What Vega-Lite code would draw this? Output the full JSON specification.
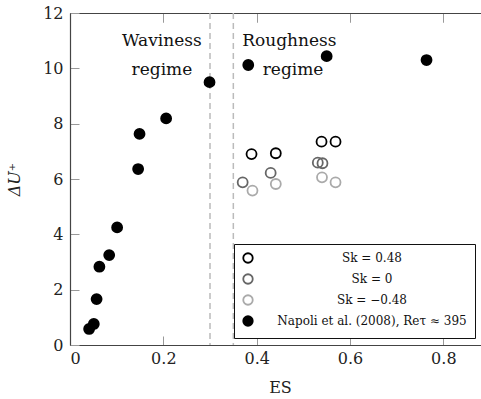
{
  "$schema": "https://vega.github.io/schema/vega-lite/v6.json",
  "autosize": {"type": "none"},
  "padding": {"left": 70, "top": 13, "right": 0, "bottom": 54},
  "width": 420,
  "height": 332,
  "background": "white",
  "config": {
    "font": "DejaVu Serif",
    "view": {"stroke": null},
    "axis": {
      "grid": false,
      "domainColor": "#444",
      "domainWidth": 1.2,
      "tickColor": "#999",
      "tickSize": -9,
      "labelFont": "DejaVu Serif",
      "labelFontSize": 16,
      "labelColor": "#222",
      "titleFont": "DejaVu Serif",
      "titleFontSize": 16,
      "titleFontWeight": "normal",
      "titleColor": "#222"
    }
  },
  "resolve": {"axis": {"x": "independent", "y": "independent"}},
  "layer": [
    {
      "data": {"values": [{"es": 0.3}, {"es": 0.35}]},
      "mark": {"type": "rule", "color": "#bbb", "strokeDash": [6, 4], "strokeWidth": 1.5},
      "encoding": {
        "x": {"field": "es", "type": "quantitative", "scale": {"domain": [0, 0.9], "nice": false},
          "axis": {"orient": "top", "labels": false, "title": null, "values": [0, 0.2, 0.4, 0.6, 0.8]}}
      }
    },
    {
      "data": {"values": [
        {"es": 0.041, "du": 0.58, "g": "Napoli et al. (2008), Reτ ≈ 395"},
        {"es": 0.051, "du": 0.76, "g": "Napoli et al. (2008), Reτ ≈ 395"},
        {"es": 0.057, "du": 1.66, "g": "Napoli et al. (2008), Reτ ≈ 395"},
        {"es": 0.063, "du": 2.83, "g": "Napoli et al. (2008), Reτ ≈ 395"},
        {"es": 0.084, "du": 3.25, "g": "Napoli et al. (2008), Reτ ≈ 395"},
        {"es": 0.101, "du": 4.25, "g": "Napoli et al. (2008), Reτ ≈ 395"},
        {"es": 0.146, "du": 6.36, "g": "Napoli et al. (2008), Reτ ≈ 395"},
        {"es": 0.149, "du": 7.63, "g": "Napoli et al. (2008), Reτ ≈ 395"},
        {"es": 0.206, "du": 8.19, "g": "Napoli et al. (2008), Reτ ≈ 395"},
        {"es": 0.299, "du": 9.5, "g": "Napoli et al. (2008), Reτ ≈ 395"},
        {"es": 0.382, "du": 10.12, "g": "Napoli et al. (2008), Reτ ≈ 395"},
        {"es": 0.55, "du": 10.44, "g": "Napoli et al. (2008), Reτ ≈ 395"},
        {"es": 0.764, "du": 10.3, "g": "Napoli et al. (2008), Reτ ≈ 395"},
        {"es": 0.389, "du": 6.9, "g": "Sk = 0.48"},
        {"es": 0.441, "du": 6.93, "g": "Sk = 0.48"},
        {"es": 0.539, "du": 7.35, "g": "Sk = 0.48"},
        {"es": 0.569, "du": 7.35, "g": "Sk = 0.48"},
        {"es": 0.37, "du": 5.88, "g": "Sk = 0"},
        {"es": 0.43, "du": 6.22, "g": "Sk = 0"},
        {"es": 0.531, "du": 6.59, "g": "Sk = 0"},
        {"es": 0.541, "du": 6.57, "g": "Sk = 0"},
        {"es": 0.391, "du": 5.58, "g": "Sk = −0.48"},
        {"es": 0.441, "du": 5.82, "g": "Sk = −0.48"},
        {"es": 0.54, "du": 6.06, "g": "Sk = −0.48"},
        {"es": 0.569, "du": 5.88, "g": "Sk = −0.48"}
      ]},
      "mark": {"type": "point", "shape": "circle", "size": 100, "strokeWidth": 1.8, "opacity": 1},
      "encoding": {
        "x": {"field": "es", "type": "quantitative", "scale": {"domain": [0, 0.9], "nice": false},
          "axis": {"title": "ES", "values": [0, 0.2, 0.4, 0.6, 0.8], "format": "~g", "labelPadding": 14, "titlePadding": 13}},
        "y": {"field": "du", "type": "quantitative", "scale": {"domain": [0, 12], "nice": false},
          "axis": {"title": "ΔU⁺", "titleFontStyle": "italic", "values": [0, 2, 4, 6, 8, 10, 12], "labelPadding": 16, "titlePadding": 20}},
        "stroke": {"field": "g", "type": "nominal",
          "scale": {"domain": ["Sk = 0.48", "Sk = 0", "Sk = −0.48", "Napoli et al. (2008), Reτ ≈ 395"], "range": ["#000000", "#666666", "#aaaaaa", "#000000"]},
          "legend": {"title": null, "orient": "none", "legendX": 164, "legendY": 231, "strokeColor": "#111", "padding": 8,
            "fillColor": "white", "symbolSize": 90, "symbolStrokeWidth": 1.8, "labelFont": "DejaVu Serif", "labelFontSize": 12,
            "labelColor": "#111", "rowPadding": 3, "labelAlign": "center", "labelOffset": 118, "labelLimit": 300}},
        "fill": {"field": "g", "type": "nominal",
          "scale": {"domain": ["Sk = 0.48", "Sk = 0", "Sk = −0.48", "Napoli et al. (2008), Reτ ≈ 395"], "range": ["transparent", "transparent", "transparent", "#000000"]},
          "legend": {"title": null, "orient": "none", "legendX": 164, "legendY": 231, "strokeColor": "#111", "padding": 8,
            "fillColor": "white", "symbolSize": 90, "symbolStrokeWidth": 1.8, "labelFont": "DejaVu Serif", "labelFontSize": 12,
            "labelColor": "#111", "rowPadding": 3, "labelAlign": "center", "labelOffset": 118, "labelLimit": 300}}
      }
    },
    {
      "data": {"values": [
        {"es": 0.197, "du": 11.0, "t": "Waviness"},
        {"es": 0.197, "du": 9.95, "t": "regime"},
        {"es": 0.47, "du": 11.0, "t": "Roughness"},
        {"es": 0.478, "du": 9.95, "t": "regime"}
      ]},
      "mark": {"type": "text", "font": "DejaVu Serif", "fontSize": 17, "color": "#111", "align": "center", "baseline": "middle"},
      "encoding": {
        "x": {"field": "es", "type": "quantitative", "scale": {"domain": [0, 0.9], "nice": false},
          "axis": {"orient": "top", "labels": false, "title": null, "values": [0, 0.2, 0.4, 0.6, 0.8], "domain": true}},
        "y": {"field": "du", "type": "quantitative", "scale": {"domain": [0, 12], "nice": false},
          "axis": {"orient": "right", "labels": false, "title": null, "values": [0, 2, 4, 6, 8, 10, 12]}},
        "text": {"field": "t", "type": "nominal"}
      }
    }
  ]
}
